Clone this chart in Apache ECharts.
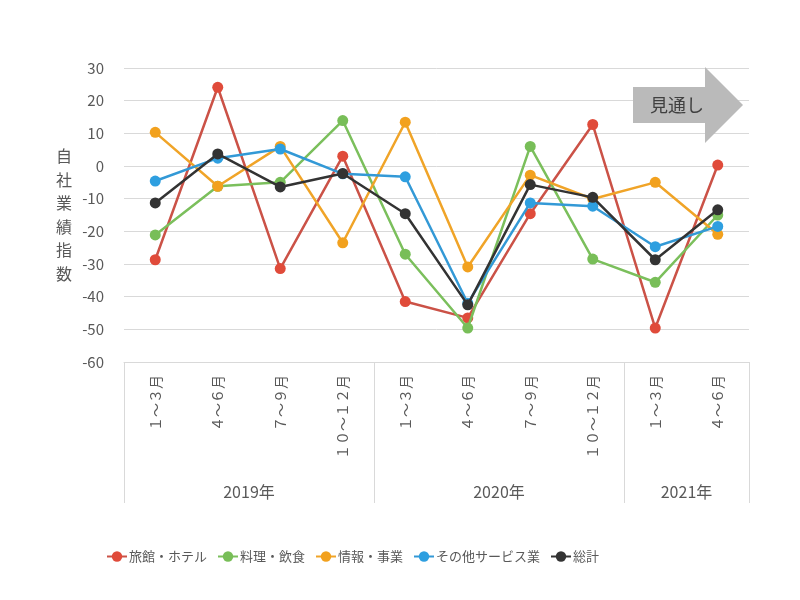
<!DOCTYPE html>
<html>
<head>
<meta charset="utf-8">
<script src="https://cdn.jsdelivr.net/npm/echarts@6/dist/echarts.min.js"></script>
<style>html,body{margin:0;padding:0;background:#fff;}#c{width:800px;height:600px;}</style>
</head>
<body>
<div id="c"></div>
<script>
const categories = ['１～３月','４～６月','７～９月','１０～１２月','１～３月','４～６月','７～９月','１０～１２月','１～３月','４～６月'];
const yearLabels = {2: '2019年', 6: '2020年', 9: '2021年'};
const groupStarts = [0, 4, 8];
const seriesNames = ['旅館・ホテル','料理・飲食','情報・事業','その他サービス業','総計'];
const ryokan = [-28.7, 24.1, -31.4, 3.0, -41.5, -46.5, -14.6, 12.7, -49.6, 0.3];
const ryori = [-21.1, -6.2, -5.0, 13.9, -27.0, -49.6, 6.0, -28.5, -35.6, -15.0];
const joho = [10.3, -6.2, 6.0, -23.5, 13.4, -30.9, -2.8, -10.1, -5.0, -20.9];
const sonota = [-4.6, 2.4, 5.2, -2.4, -3.3, -42.0, -11.3, -12.3, -24.7, -18.5];
const soukei = [-11.3, 3.7, -6.4, -2.3, -14.6, -42.5, -5.7, -9.6, -28.7, -13.4];
const yTicks = {min: -60, max: 30, interval: 10};

const FONT = '"Noto Sans CJK JP", "Noto Sans", sans-serif';
const markerColors = ['#E04B3A', '#78BE58', '#F2A11E', '#2E9FE0', '#333333'];
const lineColors = ['#CB5247', '#7BBF5C', '#F0A428', '#3399D6', '#333333'];
const allData = [ryokan, ryori, joho, sonota, soukei];

const chart = echarts.init(document.getElementById('c'), null, {renderer: 'canvas'});
chart.setOption({
  animation: false,
  backgroundColor: '#ffffff',
  textStyle: {fontFamily: FONT},
  grid: {left: 124, right: 51, top: 68, bottom: 238, containLabel: false},
  legend: {
    data: seriesNames,
    left: 106,
    top: 550,
    padding: 0,
    itemWidth: 20,
    itemHeight: 13,
    itemGap: 10,
    textStyle: {fontFamily: FONT, fontSize: 13, color: '#595959', padding: [0, 0, 0, -3]}
  },
  xAxis: [
    {
      type: 'category',
      data: categories,
      boundaryGap: true,
      axisLine: {show: true, onZero: false, lineStyle: {color: '#D9D9D9', width: 1}},
      axisTick: {
        show: true,
        length: 141,
        interval: function (i) { return groupStarts.indexOf(i) >= 0; },
        lineStyle: {color: '#D9D9D9', width: 1}
      },
      axisLabel: {
        interval: 0,
        rotate: 90,
        margin: 13,
        fontSize: 14,
        color: '#595959',
        fontFamily: FONT
      },
      splitLine: {show: false}
    },
    {
      type: 'value',
      position: 'bottom',
      min: 0,
      max: 10,
      interval: 1,
      axisLine: {show: false, onZero: false},
      axisTick: {show: false},
      splitLine: {show: false},
      axisLabel: {
        margin: 122,
        fontSize: 16,
        color: '#595959',
        fontFamily: FONT,
        formatter: function (v) { return yearLabels[v] || ''; }
      }
    }
  ],
  yAxis: {
    type: 'value',
    min: yTicks.min,
    max: yTicks.max,
    interval: yTicks.interval,
    name: '自\n社\n業\n績\n指\n数',
    nameLocation: 'middle',
    nameRotate: 0,
    nameGap: 60,
    nameTextStyle: {fontSize: 16, color: '#595959', lineHeight: 23.5, align: 'center', verticalAlign: 'middle', fontFamily: FONT},
    axisLine: {show: false},
    axisTick: {show: false},
    axisLabel: {fontSize: 15, color: '#595959', margin: 20, fontFamily: FONT},
    splitLine: {show: true, lineStyle: {color: '#D9D9D9', width: 1}}
  },
  series: seriesNames.map(function (name, i) {
    return {
      name: name,
      type: 'line',
      xAxisIndex: 0,
      data: allData[i],
      symbol: 'circle',
      symbolSize: 11,
      itemStyle: {color: markerColors[i]},
      lineStyle: {color: lineColors[i], width: 2.5},
      z: 2 + i
    };
  }),
  graphic: [
    {
      type: 'polygon',
      shape: {points: [[633, 87], [705, 87], [705, 67], [743, 105], [705, 143], [705, 123], [633, 123]]},
      style: {fill: '#BABABA'},
      z: 1
    },
    {
      type: 'text',
      x: 650,
      y: 105,
      style: {text: '見通し', fontSize: 18, fill: '#404040', fontFamily: FONT, verticalAlign: 'middle', align: 'left'},
      z: 2
    }
  ]
});
</script>
</body>
</html>
